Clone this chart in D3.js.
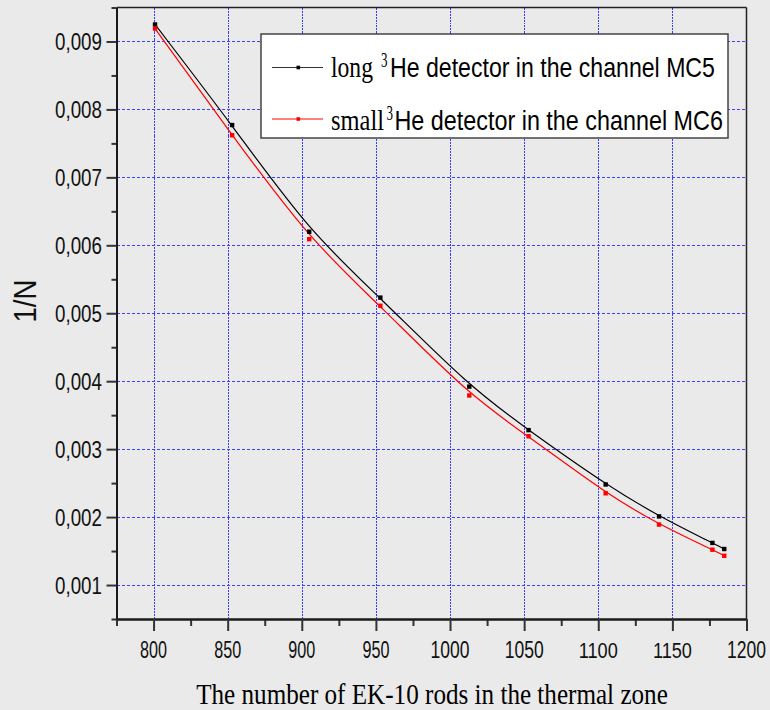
<!DOCTYPE html>
<html>
<head>
<meta charset="utf-8">
<script src="https://cdn.jsdelivr.net/npm/d3@7"></script>
<style>
  html, body { margin: 0; padding: 0; background: #eaeaea; }
  svg { display: block; }
</style>
</head>
<body>
<svg id="chart" width="770" height="710"></svg>
<script>
// ---- data ----
const rods = [801, 853, 905, 953, 1013, 1053, 1105, 1141, 1177, 1185];
const longMC5 = [0.00925, 0.00777, 0.00620, 0.00523, 0.00392, 0.00328, 0.00248, 0.00201, 0.00162, 0.00153];
const smallMC6 = [0.00919, 0.00762, 0.00609, 0.00511, 0.00379, 0.00319, 0.00235, 0.00189, 0.00152, 0.00143];
const xMajorTicks = [800, 850, 900, 950, 1000, 1050, 1100, 1150, 1200];
const xMinorTicks = [775, 825, 875, 925, 975, 1025, 1075, 1125, 1175];
const yMajorTicks = [0.001, 0.002, 0.003, 0.004, 0.005, 0.006, 0.007, 0.008, 0.009];
const yMinorTicks = [0.0005, 0.0015, 0.0025, 0.0035, 0.0045, 0.0055, 0.0065, 0.0075, 0.0085, 0.0095];
const seriesNames = ["long", "small"];
const seriesRest = ["He detector in the channel MC5", "He detector in the channel MC6"];

const svg = d3.select("#chart");
svg.append("rect").attr("width", 770).attr("height", 710).attr("fill", "#eaeaea");

const x = d3.scaleLinear().domain([775, 1200]).range([116.5, 746.5]);
const y = d3.scaleLinear().domain([0.0005, 0.0095]).range([619, 7.5]);
const crisp = v => Math.round(v) + 0.5;

const SANS = "Liberation Sans, Arial, sans-serif";
const SERIF = "Liberation Serif, Times New Roman, serif";

// place a text whose rendered width is squeezed to targetW (horizontal scale only)
function fitText(parent, str, px, py, targetW, opts) {
  const t = parent.append("text")
    .attr("font-family", opts.family).attr("font-size", opts.size)
    .attr("fill", opts.fill || "#000")
    .attr("text-anchor", opts.anchor || "start")
    .attr("x", 0).attr("y", 0).text(str);
  const w = t.node().getComputedTextLength();
  const s = w > 0 ? targetW / w : 1;
  t.attr("transform", `translate(${px},${py}) ${opts.rotate ? "rotate(" + opts.rotate + ")" : ""} scale(${s},1)`);
  return t;
}

// grid
const grid = svg.append("g").attr("shape-rendering", "crispEdges");
grid.selectAll("line.v").data(xMajorTicks.filter(d => d < 1200)).join("line")
  .attr("x1", d => crisp(x(d))).attr("x2", d => crisp(x(d)))
  .attr("y1", y(0.0095)).attr("y2", y(0.0005))
  .attr("stroke", "#3a3aff").attr("stroke-width", 1).attr("stroke-dasharray", "2,1");
grid.selectAll("line.h").data(yMajorTicks).join("line")
  .attr("x1", x(775)).attr("x2", x(1200))
  .attr("y1", d => crisp(y(d))).attr("y2", d => crisp(y(d)))
  .attr("stroke", "#4040ff").attr("stroke-width", 1).attr("stroke-dasharray", "3,2");

// frame top/right
svg.append("line").attr("x1", x(775)).attr("x2", x(1200)).attr("y1", y(0.0095)).attr("y2", y(0.0095))
  .attr("stroke", "#222").attr("stroke-width", 1.5);
svg.append("line").attr("x1", x(1200)).attr("x2", x(1200)).attr("y1", y(0.0095)).attr("y2", y(0.0005))
  .attr("stroke", "#222").attr("stroke-width", 1.5);

// axes
const xAxisMinor = d3.axisBottom(x).tickValues(xMinorTicks).tickSize(7).tickFormat("").tickSizeOuter(0);
const xAxisMajor = d3.axisBottom(x).tickValues(xMajorTicks).tickSize(12).tickFormat("").tickSizeOuter(0);
const yAxisMinor = d3.axisLeft(y).tickValues(yMinorTicks).tickSize(5).tickFormat("").tickSizeOuter(0);
const yAxisMajor = d3.axisLeft(y).tickValues(yMajorTicks).tickSize(10).tickFormat("").tickSizeOuter(0);

function styleAxis(g) {
  g.selectAll("path.domain").attr("stroke", "#1a1a1a").attr("stroke-width", 2);
  g.selectAll(".tick line").attr("stroke", "#333").attr("stroke-width", 2);
}
svg.append("g").attr("transform", `translate(0,${y(0.0005)})`).call(xAxisMinor).call(styleAxis);
svg.append("g").attr("transform", `translate(0,${y(0.0005)})`).call(xAxisMajor).call(styleAxis);
svg.append("g").attr("transform", `translate(${x(775)},0)`).call(yAxisMinor).call(styleAxis);
svg.append("g").attr("transform", `translate(${x(775)},0)`).call(yAxisMajor).call(styleAxis);

// tick labels
const xl = svg.append("g");
xMajorTicks.forEach(d => {
  fitText(xl, String(d), x(d), 658, String(d).length === 3 ? 27 : 39,
    { family: SANS, size: 23, fill: "#111", anchor: "middle" });
});
const fmt = d3.format(".3f");
const yl = svg.append("g");
yMajorTicks.forEach(d => {
  fitText(yl, fmt(d).replace(".", ","), 102, y(d) + 8.5, 47,
    { family: SANS, size: 24, fill: "#111", anchor: "end" });
});

// axis titles
fitText(svg, "The number of EK-10 rods in the thermal zone", 432, 704, 472,
  { family: SERIF, size: 30, fill: "#000", anchor: "middle" });
{
  const t = svg.append("text")
    .attr("font-family", SANS).attr("font-size", 32).attr("fill", "#111")
    .attr("text-anchor", "middle").attr("x", 0).attr("y", 0).text("1/N");
  const w = t.node().getComputedTextLength();
  t.attr("transform", `translate(36,301) rotate(-90) scale(${43 / w},1)`);
}

// series
const colors = ["#000000", "#ff0000"];
const series = [longMC5, smallMC6];
const line = d3.line().x((d, i) => x(rods[i])).y(d => y(d)).curve(d3.curveBasis);
series.forEach((vals, si) => {
  svg.append("path").datum(vals).attr("d", line)
    .attr("fill", "none").attr("stroke", colors[si]).attr("stroke-width", 1.2);
});
series.forEach((vals, si) => {
  svg.append("g").selectAll("rect").data(vals).join("rect")
    .attr("x", (d, i) => x(rods[i]) - 2.2).attr("y", d => y(d) - 2.2)
    .attr("width", 4.4).attr("height", 4.4).attr("fill", colors[si]);
});

// legend
const lg = svg.append("g");
lg.append("rect").attr("x", 261).attr("y", 34).attr("width", 467).attr("height", 104)
  .attr("fill", "#ffffff").attr("stroke", "#444").attr("stroke-width", 1.5);
const legendRows = [
  { ly: 67.5, base: 77, wordLen: 42, supX: 381, heX: 390, heLen: 325 },
  { ly: 119, base: 130, wordLen: 53, supX: 386.5, heX: 394.5, heLen: 328.5 }
];
legendRows.forEach((r, i) => {
  lg.append("line").attr("x1", 272).attr("x2", 323).attr("y1", r.ly).attr("y2", r.ly)
    .attr("stroke", i === 0 ? "#333" : "#ff0000").attr("stroke-width", 1);
  lg.append("rect").attr("x", 296.5).attr("y", r.ly - 1.8).attr("width", 3.6).attr("height", 3.6)
    .attr("fill", colors[i]);
  fitText(lg, seriesNames[i], 331, r.base, r.wordLen, { family: SERIF, size: 30 });
  fitText(lg, "3", r.supX, r.base - 10.5, 6.5, { family: SERIF, size: 20 });
  fitText(lg, seriesRest[i], r.heX, r.base, r.heLen, { family: SANS, size: 28.5 });
});
</script>
</body>
</html>
